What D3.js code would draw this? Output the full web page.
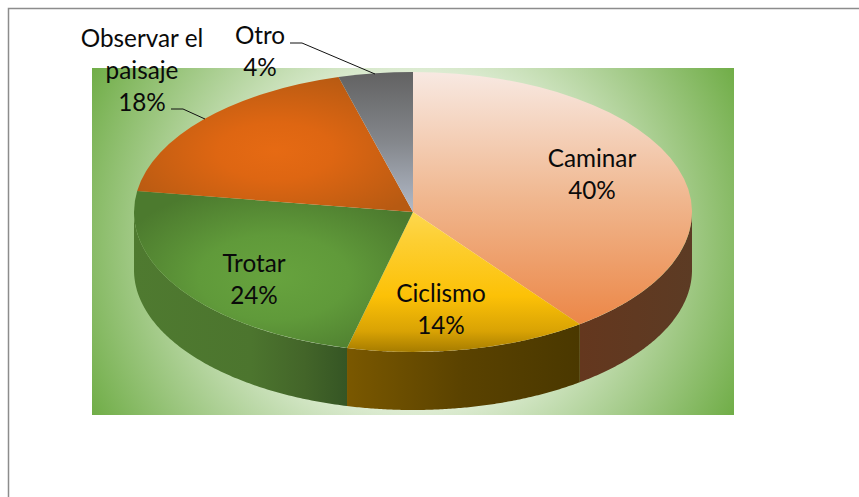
<!DOCTYPE html>
<html><head><meta charset="utf-8">
<script src="https://cdn.jsdelivr.net/npm/d3@7"></script>
<style>html,body{margin:0;padding:0;background:#fff;overflow:hidden}svg{display:block}</style>
</head><body><svg id="c" width="859" height="497"></svg>
<script>
const categories = ["Caminar","Ciclismo","Trotar","Observar el paisaje","Otro"];
const values = [39.8,14.0,23.6,18.3,4.3];
const valueLabels = ["40%","14%","24%","18%","4%"];

const W=859,H=497,cx=413,cy=212,rx=279,ry=140,depth=58,R=1000;
const svg=d3.select("#c");
const defs=svg.append("defs");
function grad(id,type,attrs,stops){
  const g=defs.append(type).attr("id",id);
  Object.entries(attrs).forEach(([k,v])=>g.attr(k,v));
  g.selectAll("stop").data(stops).join("stop").attr("offset",d=>d[0]).attr("stop-color",d=>d[1]);
}
const V={x1:0,y1:0,x2:0,y2:1}, Hz={x1:0,y1:0,x2:1,y2:0};
grad("bg","radialGradient",{gradientUnits:"userSpaceOnUse",cx:413,cy:241,r:365},[[0,"#fff"],[.35,"#f4f9f0"],[1,"#70ad47"]]);
grad("t0","linearGradient",V,[[0,"#f8e9e2"],[.5,"#f0b78f"],[1,"#ec8747"]]);
grad("t1","linearGradient",V,[[0,"#fdd84e"],[.2,"#fdcf33"],[.6,"#fcc107"],[.85,"#d9a304"],[1,"#a67c00"]]);
grad("t2","radialGradient",{cx:.5,cy:.55,r:.6},[[0,"#67a33e"],[.45,"#609a3a"],[1,"#4c7a2e"]]);
grad("t3","radialGradient",{cx:.5,cy:.55,r:.6},[[0,"#e66a13"],[.35,"#de6612"],[1,"#b75a12"]]);
grad("t4","linearGradient",V,[[0,"#626262"],[.5,"#84878c"],[1,"#b2bac8"]]);
grad("w0","linearGradient",Hz,[[0,"#64371e"],[1,"#5c3b24"]]);
grad("w1","linearGradient",Hz,[[0,"#7a5800"],[.5,"#5a4200"],[1,"#4a3800"]]);
grad("w2","linearGradient",Hz,[[0,"#4f7a30"],[.55,"#4c752e"],[.8,"#436529"],[1,"#355524"]]);

// frame
svg.append("rect").attr("x",8.5).attr("y",8.5).attr("width",W+20).attr("height",H+20)
  .attr("fill","#fff").attr("stroke","#8c8c8c").attr("stroke-width",1.5);
// background panel
svg.append("rect").attr("x",92).attr("y",68).attr("width",642).attr("height",347).attr("fill","url(#bg)");

const pie=d3.pie().value(d=>d).sort(null);
const arcs=pie(values);
const X=a=>cx+rx*Math.sin(a), Y=a=>cy-ry*Math.cos(a);

// front walls
const area=d3.area().x(X).y0(Y).y1(a=>Y(a)+depth);
const front=[Math.PI/2,3*Math.PI/2];
svg.append("g").selectAll("path").data(arcs.filter(d=>d.endAngle>front[0]&&d.startAngle<front[1])).join("path")
  .attr("d",d=>{
    const a0=Math.max(d.startAngle,front[0]),a1=Math.min(d.endAngle,front[1]);
    return area(d3.range(0,121).map(i=>a0+(a1-a0)*i/120));
  })
  .attr("fill",d=>`url(#w${d.index})`);

// top faces
const arc=d3.arc().innerRadius(0).outerRadius(R);
svg.append("g").attr("transform",`translate(${cx},${cy}) scale(${rx/R},${ry/R})`)
  .selectAll("path").data(arcs).join("path").attr("d",arc).attr("fill",d=>`url(#t${d.index})`);

// leader lines
const line=d3.line();
const leaders=[[[171,109],[183,109],[205,119]],[[290,43],[302,43],[375,74]]];
svg.append("g").selectAll("path").data(leaders).join("path").attr("d",line)
  .attr("fill","none").attr("stroke","#111").attr("stroke-width",1);

// labels
const labelLayout=[
 {x:592,y:167,lines:["Caminar"]},
 {x:441,y:302,lines:["Ciclismo"]},
 {x:254,y:272,lines:["Trotar"]},
 {x:142,y:47,lines:["Observar el","paisaje"]},
 {x:260,y:44,lines:["Otro"]}
];
const lh=32;
const lab=svg.append("g").attr("font-family","Lato, 'Open Sans', sans-serif").attr("font-size",24.3)
  .attr("fill","#0a0a0a").attr("text-anchor","middle");
labelLayout.forEach((l,i)=>{
  const rows=[...l.lines,valueLabels[i]];
  rows.forEach((t,j)=>lab.append("text").attr("x",l.x).attr("y",l.y+j*lh).text(t));
});
</script></body></html>
